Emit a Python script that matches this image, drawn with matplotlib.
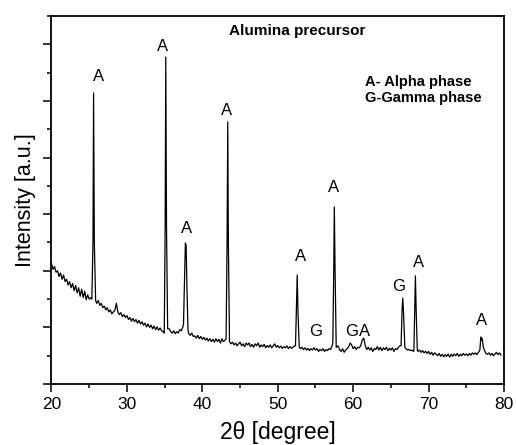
import numpy as np
import matplotlib
matplotlib.use("Agg")
import matplotlib.pyplot as plt
from matplotlib.ticker import MultipleLocator

plt.rcParams['font.family'] = ['Liberation Sans', 'DejaVu Sans']

# Background scan, one reading every 0.2 degree from 20.0 to 79.6
bg_start, bg_step = 20.0, 0.2
bg_counts = [
    4.25, 4.05, 4.15, 3.95, 4.00,  3.80, 3.92, 3.70, 3.85, 3.62,
    3.70, 3.50, 3.62, 3.40, 3.55,  3.30, 3.48, 3.22, 3.40, 3.10,
    3.35, 3.05, 3.28, 2.98, 3.15,  3.00, 3.05, 2.98, 3.02, 2.95,
    2.85, 2.95, 2.78, 2.85, 2.70,  2.75, 2.62, 2.70, 2.55, 2.62,
    2.48, 2.55, 2.60, 2.85, 2.55,  2.45, 2.52, 2.38, 2.45, 2.35,
    2.42, 2.28, 2.35, 2.22, 2.32,  2.20, 2.28, 2.15, 2.25, 2.12,
    2.20, 2.08, 2.15, 2.02, 2.12,  2.00, 2.08, 1.95, 2.05, 1.92,
    2.02, 1.90, 1.98, 1.88, 1.85,  1.95, 1.90, 1.90, 1.95, 1.85,
    1.80, 1.88, 1.78, 1.85, 1.80,  1.92, 1.88, 2.00, 2.10, 2.00,
    1.85, 1.78, 1.72, 1.80, 1.68,  1.70, 1.62, 1.72, 1.60, 1.68,
    1.58, 1.65, 1.55, 1.62, 1.52,  1.60, 1.50, 1.58, 1.48, 1.60,
    1.50, 1.58, 1.45, 1.60, 1.50,  1.55, 1.60, 1.55, 1.50, 1.42,
    1.48, 1.38, 1.45, 1.35, 1.42,  1.48, 1.35, 1.42, 1.32, 1.45,
    1.38, 1.45, 1.32, 1.40, 1.30,  1.42, 1.35, 1.45, 1.30, 1.38,
    1.32, 1.40, 1.28, 1.36, 1.30,  1.38, 1.28, 1.35, 1.42, 1.30,
    1.36, 1.28, 1.34, 1.26, 1.32,  1.28, 1.35, 1.25, 1.32, 1.26,
    1.30, 1.34, 1.32, 1.30, 1.28,  1.25, 1.30, 1.22, 1.28, 1.20,
    1.26, 1.18, 1.25, 1.20, 1.28,  1.20, 1.25, 1.15, 1.22, 1.18,
    1.25, 1.15, 1.22, 1.18, 1.25,  1.22, 1.35, 1.40, 1.35, 1.30,
    1.35, 1.22, 1.15, 1.25, 1.12,  1.20, 1.25, 1.32, 1.45, 1.38,
    1.25, 1.32, 1.22, 1.30, 1.28,  1.35, 1.55, 1.62, 1.35, 1.22,
    1.30, 1.20, 1.28, 1.15, 1.25,  1.22, 1.32, 1.20, 1.30, 1.18,
    1.28, 1.22, 1.30, 1.18, 1.26,  1.20, 1.28, 1.15, 1.25, 1.22,
    1.30, 1.35, 1.30, 1.30, 1.28,  1.25, 1.20, 1.22, 1.18, 1.20,
    1.15, 1.20, 1.20, 1.15, 1.20,  1.12, 1.18, 1.10, 1.16, 1.08,
    1.15, 1.05, 1.12, 1.02, 1.10,  1.05, 1.00, 1.08, 0.98, 1.05,
    0.96, 1.04, 0.98, 1.06, 0.95,  1.05, 0.98, 1.06, 1.00, 1.08,
    0.98, 1.05, 1.00, 1.08, 1.02,  1.06, 1.00, 1.08, 1.02, 1.10,
    1.05, 1.10, 1.04, 1.12, 1.18,  1.25, 1.30, 1.20, 1.08, 1.05,
    1.10, 1.02, 1.08, 1.00, 1.06,  1.12, 1.04, 1.10, 1.02,
]

# Diffraction peaks: outline points (2theta, intensity) of each reflection
peak_2theta = [
    [25.35, 25.50, 25.58, 25.68, 25.85],
    [34.95, 35.07, 35.15, 35.25, 35.40],
    [37.50, 37.65, 37.75, 37.85, 37.95, 38.10],
    [43.15, 43.28, 43.37, 43.45, 43.60],
    [52.35, 52.48, 52.58, 52.68, 52.85],
    [57.30, 57.42, 57.50, 57.60, 57.75],
    [66.35, 66.48, 66.57, 66.68, 66.85],
    [68.05, 68.17, 68.25, 68.35, 68.50],
    [76.80, 76.92, 77.02, 77.12, 77.25],
]
peak_counts = [
    [3.00, 5.00, 10.28, 5.00, 2.95],
    [1.80, 5.50, 11.55, 5.50, 1.95],
    [2.10, 3.80, 4.98, 4.90, 3.50, 1.90],
    [1.60, 5.00, 9.26, 5.00, 1.50],
    [1.35, 2.80, 3.85, 2.50, 1.30],
    [1.45, 4.00, 6.25, 4.00, 1.30],
    [1.35, 2.60, 3.04, 2.50, 1.30],
    [1.20, 2.80, 3.82, 2.60, 1.20],
    [1.20, 1.66, 1.55, 1.60, 1.30],
]

# Phase markers
label_text = ["A", "A", "A", "A", "A", "A", "G", "G", "A", "G", "A", "A"]
label_2theta = [26.24, 34.73, 37.92, 43.23, 53.0, 57.43, 55.0, 59.79, 61.55, 66.06, 68.72, 77.08]
label_y = [10.85, 11.94, 5.51, 9.65, 4.49, 6.93, 1.87, 1.87, 1.87, 3.43, 4.28, 2.23]

# Assemble the full pattern: background outside the peaks, peak outlines inside
bg_x = bg_start + bg_step * np.arange(len(bg_counts))
bg_y = np.array(bg_counts)
keep = np.ones(len(bg_x), dtype=bool)
for px in peak_2theta:
    keep &= ~((bg_x >= px[0] - 1e-9) & (bg_x <= px[-1] + 1e-9))
xs = list(bg_x[keep])
ys = list(bg_y[keep])
for px, py in zip(peak_2theta, peak_counts):
    xs += px
    ys += py
order = np.argsort(xs)
two_theta = np.array(xs)[order]
intensity = np.array(ys)[order]

fig = plt.figure(figsize=(5.16, 4.45), dpi=100)
ax = fig.add_axes([0.0998, 0.137, 0.877, 0.827])
ax.plot(two_theta, intensity, color='black', lw=0.9)

ax.set_xlim(20, 80)
ax.set_ylim(0, 13)
ax.xaxis.set_major_locator(MultipleLocator(10))
ax.xaxis.set_minor_locator(MultipleLocator(5))
ax.yaxis.set_major_locator(MultipleLocator(2))
ax.yaxis.set_minor_locator(MultipleLocator(1))
ax.tick_params(axis='both', which='major', direction='out', length=5.5, width=1.1,
               labelsize=12.5, pad=4)
ax.tick_params(axis='both', which='minor', direction='out', length=3, width=1.1)
ax.tick_params(axis='y', which='both', labelleft=False)
for sp in ax.spines.values():
    sp.set_linewidth(1.3)

ax.set_xlabel('2θ [degree]', fontsize=16.5, labelpad=6)
ax.set_ylabel('Intensity [a.u.]', fontsize=15.5, labelpad=6)

for t, x, y in zip(label_text, label_2theta, label_y):
    ax.text(x, y, t, fontsize=12, ha='center', va='center')

ax.text(0.544, 0.959, 'Alumina precursor', transform=ax.transAxes, fontsize=11,
        fontweight='bold', ha='center', va='center')
ax.text(0.693, 0.821, 'A- Alpha phase', transform=ax.transAxes, fontsize=10.5,
        fontweight='bold', ha='left', va='center')
ax.text(0.693, 0.777, 'G-Gamma phase', transform=ax.transAxes, fontsize=10.5,
        fontweight='bold', ha='left', va='center')

fig.savefig('out.png', dpi=100)
